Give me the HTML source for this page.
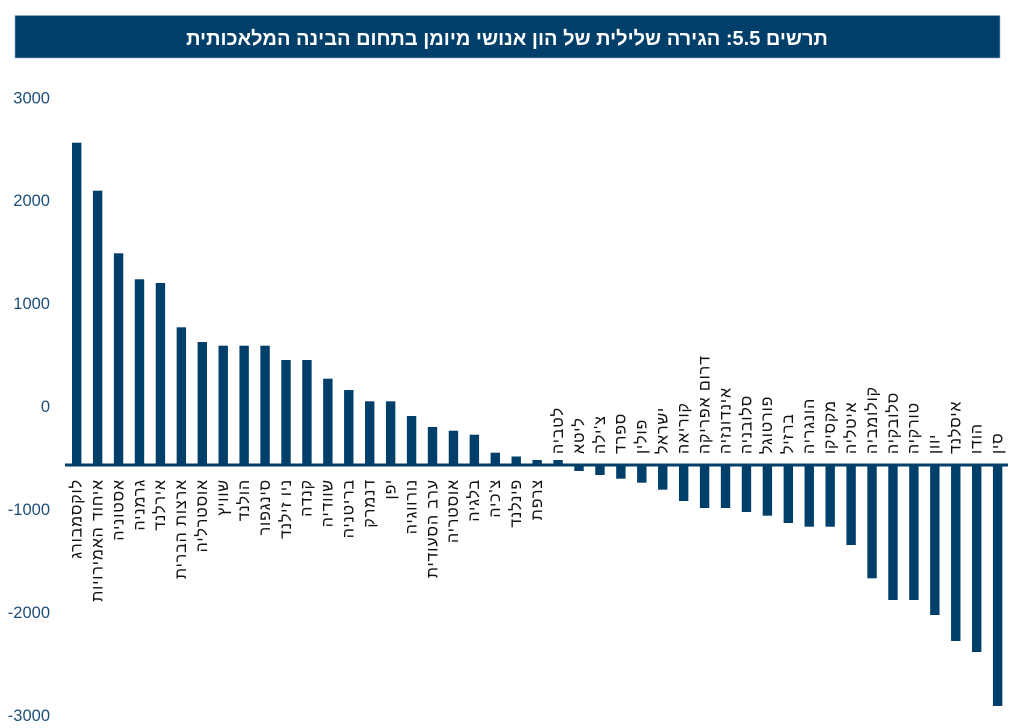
<!DOCTYPE html>
<html>
<head>
<meta charset="utf-8">
<style>
  html,body{margin:0;padding:0;background:#ffffff;}
  svg{display:block;}
  .tick{font-family:"Liberation Sans","DejaVu Sans",sans-serif;font-size:16.5px;fill:#1f4e79;}
  .lab{font-family:"Liberation Sans","DejaVu Sans",sans-serif;font-size:16px;letter-spacing:0.9px;fill:#111111;}
  .title{font-family:"Liberation Sans","DejaVu Sans",sans-serif;font-size:20px;font-weight:bold;fill:#ffffff;}
</style>
</head>
<body>
<svg width="1029" height="728" viewBox="0 0 1029 728" xmlns="http://www.w3.org/2000/svg">
  <rect x="0" y="0" width="1029" height="728" fill="#ffffff"/>
  <!-- title bar -->
  <rect x="15" y="15.5" width="985" height="42.5" fill="#013f6b" stroke="#8fb0cc" stroke-width="0.6"/>
  <text class="title" x="507" y="45" text-anchor="middle">תרשים 5.5: הגירה שלילית של הון אנושי מיומן בתחום הבינה המלאכותית</text>

  <!-- y tick labels -->
  <text class="tick" x="50" y="103.5" text-anchor="end">3000</text>
  <text class="tick" x="50" y="206" text-anchor="end">2000</text>
  <text class="tick" x="50" y="309" text-anchor="end">1000</text>
  <text class="tick" x="50" y="412" text-anchor="end">0</text>
  <text class="tick" x="50" y="515" text-anchor="end">-1000</text>
  <text class="tick" x="50" y="618" text-anchor="end">-2000</text>
  <text class="tick" x="50" y="721" text-anchor="end">-3000</text>

  <g id="bars" fill="#013f6b"></g>
  <g id="labels"></g>

  <!-- axis line -->
  <rect x="65" y="463.5" width="943" height="3" fill="#013f6b"/>
</svg>
<script>
(function(){
  var NS="http://www.w3.org/2000/svg";
  var names=["לוקסמבורג","איחוד האמירויות","אסטוניה","גרמניה","אירלנד","ארצות הברית","אוסטרליה","שוויץ","הולנד","סינגפור","ניו זילנד","קנדה","שוודיה","בריטניה","דנמרק","יפן","נורווגיה","ערב הסעודית","אוסטריה","בלגיה","צ'כיה","פינלנד","צרפת","לטביה","ליטא","צ'ילה","ספרד","פולין","ישראל","קוריאה","דרום אפריקה","אינדונזיה","סלובניה","פורטוגל","ברזיל","הונגריה","מקסיקו","איטליה","קולומביה","סלובקיה","טורקיה","יוון","איסלנד","הודו","סין"];
  var ends=[142.7,190.7,253.3,279.3,283,327.3,342,345.7,345.7,345.7,360,360,378.7,390,401.3,401.3,416,427,430.7,434.7,452.7,456.5,460,460,
            471,475,478.7,482.7,489.7,501,508,508,512,515.7,523,526.7,526.7,545,578.3,600,600,615,641,652,706];
  var bars=document.getElementById("bars");
  var labs=document.getElementById("labels");
  var pitch=20.93, w=9.4, x0=72;
  for(var i=0;i<45;i++){
    var x=x0+i*pitch;
    var r=document.createElementNS(NS,"rect");
    var y,h;
    if(i<24){ y=ends[i]; h=465-y; } else { y=465; h=ends[i]-465; }
    r.setAttribute("x",x.toFixed(2));
    r.setAttribute("y",y.toFixed(2));
    r.setAttribute("width",w);
    r.setAttribute("height",h.toFixed(2));
    bars.appendChild(r);
    var cx=x+w/2+4.8;
    var t=document.createElementNS(NS,"text");
    t.setAttribute("class","lab");
    if(i<23){
      t.setAttribute("transform","translate("+cx.toFixed(2)+",479) rotate(-90)");
      t.setAttribute("text-anchor","end");
    } else {
      t.setAttribute("transform","translate("+cx.toFixed(2)+",454) rotate(-90)");
      t.setAttribute("text-anchor","start");
    }
    t.textContent=names[i];
    labs.appendChild(t);
  }
})();
</script>
</body>
</html>
